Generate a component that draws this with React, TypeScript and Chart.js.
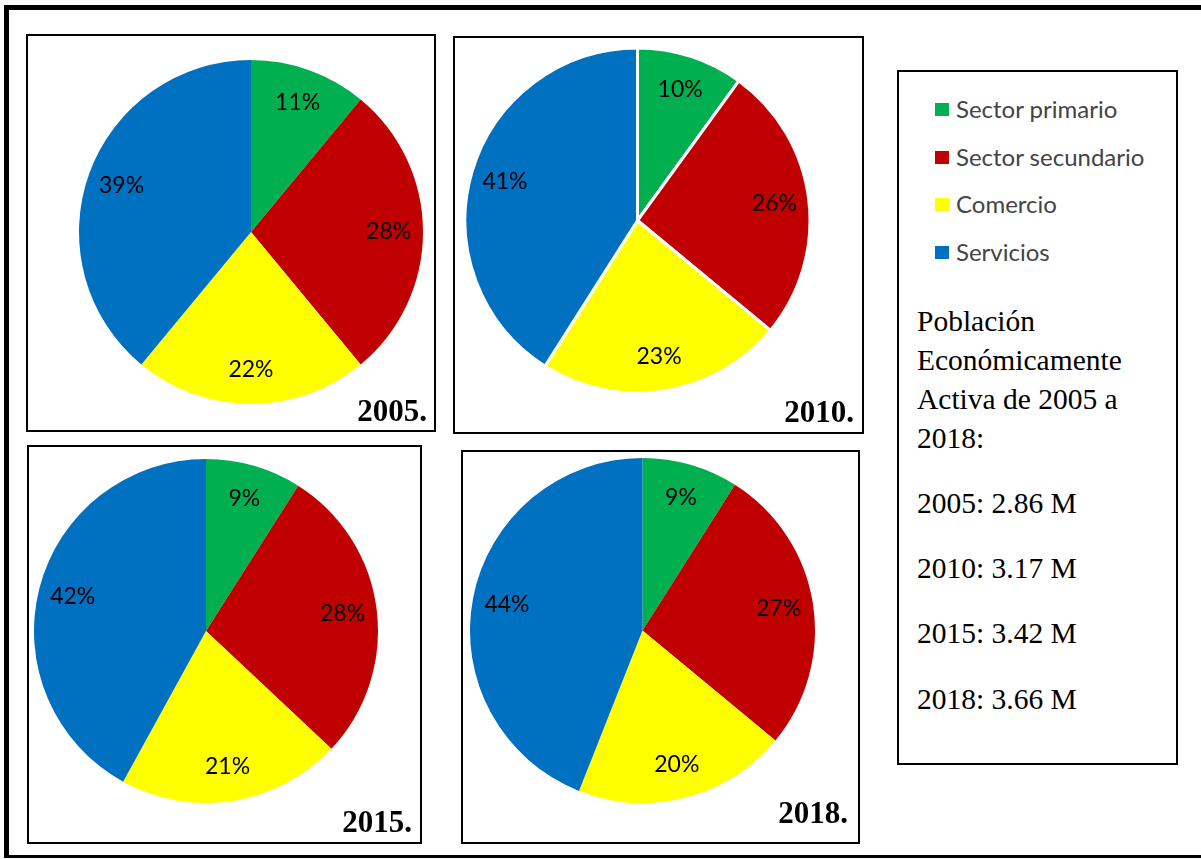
import React, { useEffect, useRef } from "react";
import { Chart, registerables } from "chart.js";

Chart.register(...registerables);

// ---- data ----
const categories = ["Sector primario", "Sector secundario", "Comercio", "Servicios"];
const sectorColors = ["#00B050", "#C00000", "#FFFF00", "#0070C0"];
const yearTitles = ["2005.", "2010.", "2015.", "2018."];
const values2005 = [11, 28, 22, 39];
const values2010 = [10, 26, 23, 41];
const values2015 = [9, 28, 21, 42];
const values2018 = [9, 27, 20, 44];
const noteLines = ["Población", "Económicamente", "Activa de 2005 a", "2018:"];
const peaLines = ["2005: 2.86 M", "2010: 3.17 M", "2015: 3.42 M", "2018: 3.66 M"];

const pctLabelPlugin = {
  id: "pctLabels",
  afterDatasetsDraw(chart: any) {
    const ctx = chart.ctx;
    const meta = chart.getDatasetMeta(0);
    const data = chart.data.datasets[0].data as number[];
    const total = data.reduce((a, b) => a + b, 0);
    ctx.save();
    ctx.font = "23px Lato";
    ctx.fillStyle = "#000";
    ctx.textAlign = "center";
    ctx.textBaseline = "middle";
    meta.data.forEach((arc: any, i: number) => {
      const { x, y, startAngle, endAngle, outerRadius } = arc.getProps(
        ["x", "y", "startAngle", "endAngle", "outerRadius"],
        true
      );
      const mid = (startAngle + endAngle) / 2;
      const d = outerRadius * 0.8;
      const pct = Math.round((data[i] / total) * 100) + "%";
      ctx.fillText(pct, x + Math.cos(mid) * d, y + Math.sin(mid) * d);
    });
    ctx.restore();
  },
};

type PieProps = { values: number[]; cx: number; cy: number; r: number; border: number };

function Pie({ values, cx, cy, r, border }: PieProps) {
  const ref = useRef<HTMLCanvasElement | null>(null);
  const pad = 4;
  const size = Math.ceil(2 * r + 2 * pad);
  useEffect(() => {
    if (!ref.current) return;
    const chart = new Chart(ref.current, {
      type: "pie",
      data: {
        labels: categories,
        datasets: [
          {
            data: values,
            backgroundColor: sectorColors,
            borderColor: "#ffffff",
            borderWidth: border,
          },
        ],
      },
      options: {
        responsive: false,
        animation: false,
        devicePixelRatio: 1,
        radius: r,
        layout: { padding: 0 },
        plugins: { legend: { display: false }, tooltip: { enabled: false } },
      } as any,
      plugins: [pctLabelPlugin],
    });
    return () => chart.destroy();
  }, []);
  return (
    <canvas
      ref={ref}
      width={size}
      height={size}
      style={{ position: "absolute", left: cx - size / 2, top: cy - size / 2, width: size, height: size }}
    />
  );
}

const panelStyle = (left: number, top: number, w: number, h: number): React.CSSProperties => ({
  position: "absolute",
  left,
  top,
  width: w,
  height: h,
  border: "2px solid #000",
  boxSizing: "border-box",
});

const yearStyle = (right: number, top: number): React.CSSProperties => ({
  position: "absolute",
  left: right - 200,
  width: 200,
  top,
  textAlign: "right",
  fontFamily: "'Liberation Serif', 'Times New Roman', serif",
  fontWeight: "bold",
  fontSize: 31,
  lineHeight: "31px",
  color: "#000",
  whiteSpace: "nowrap",
});

const noteStyle = (top: number): React.CSSProperties => ({
  position: "absolute",
  left: 917,
  top,
  fontFamily: "'Liberation Serif', 'Times New Roman', serif",
  fontSize: 29.5,
  lineHeight: "29.5px",
  color: "#000",
  whiteSpace: "nowrap",
});

export default function App() {
  const noteBaselines = [332, 371, 410, 449];
  const peaBaselines = [514, 579, 644, 710];
  const legendBaselines = [117, 164.5, 212, 259.5];
  return (
    <div
      style={{
        position: "absolute",
        left: 0,
        top: 0,
        width: 1201,
        height: 859,
        overflow: "hidden",
        background: "#fff",
      }}
    >
      <div
        style={{
          position: "absolute",
          left: 4,
          top: 5,
          width: 1230,
          height: 853,
          borderStyle: "solid",
          borderColor: "#000",
          borderWidth: "5px 5px 3px 5px",
          boxSizing: "border-box",
        }}
      />
      <div style={panelStyle(26, 34, 410, 398)} />
      <div style={panelStyle(453, 36, 411, 398)} />
      <div style={panelStyle(27, 445, 395, 399)} />
      <div style={panelStyle(461, 450, 399, 394)} />
      <div style={panelStyle(897, 70, 281, 695)} />

      <Pie values={values2005} cx={250.5} cy={232} r={172} border={0} />
      <Pie values={values2010} cx={637} cy={220} r={172.5} border={3} />
      <Pie values={values2015} cx={206} cy={631} r={172} border={0} />
      <Pie values={values2018} cx={642.5} cy={630} r={172.5} border={0} />

      <div style={yearStyle(427, 395)}>{yearTitles[0]}</div>
      <div style={yearStyle(854, 396)}>{yearTitles[1]}</div>
      <div style={yearStyle(412, 806)}>{yearTitles[2]}</div>
      <div style={yearStyle(848, 797)}>{yearTitles[3]}</div>

      {categories.map((c, i) => (
        <React.Fragment key={c}>
          <div
            style={{
              position: "absolute",
              left: 935,
              top: legendBaselines[i] - 14,
              width: 14,
              height: 13,
              background: sectorColors[i],
            }}
          />
          <div
            style={{
              position: "absolute",
              left: 956,
              top: legendBaselines[i] - 20,
              fontFamily: "Lato, 'Noto Sans', sans-serif",
              fontSize: 24,
              lineHeight: "24px",
              color: "#444",
              whiteSpace: "nowrap",
            }}
          >
            {c}
          </div>
        </React.Fragment>
      ))}

      {noteLines.map((t, i) => (
        <div key={t} style={noteStyle(noteBaselines[i] - 25)}>
          {t}
        </div>
      ))}
      {peaLines.map((t, i) => (
        <div key={t} style={noteStyle(peaBaselines[i] - 25)}>
          {t}
        </div>
      ))}
    </div>
  );
}
